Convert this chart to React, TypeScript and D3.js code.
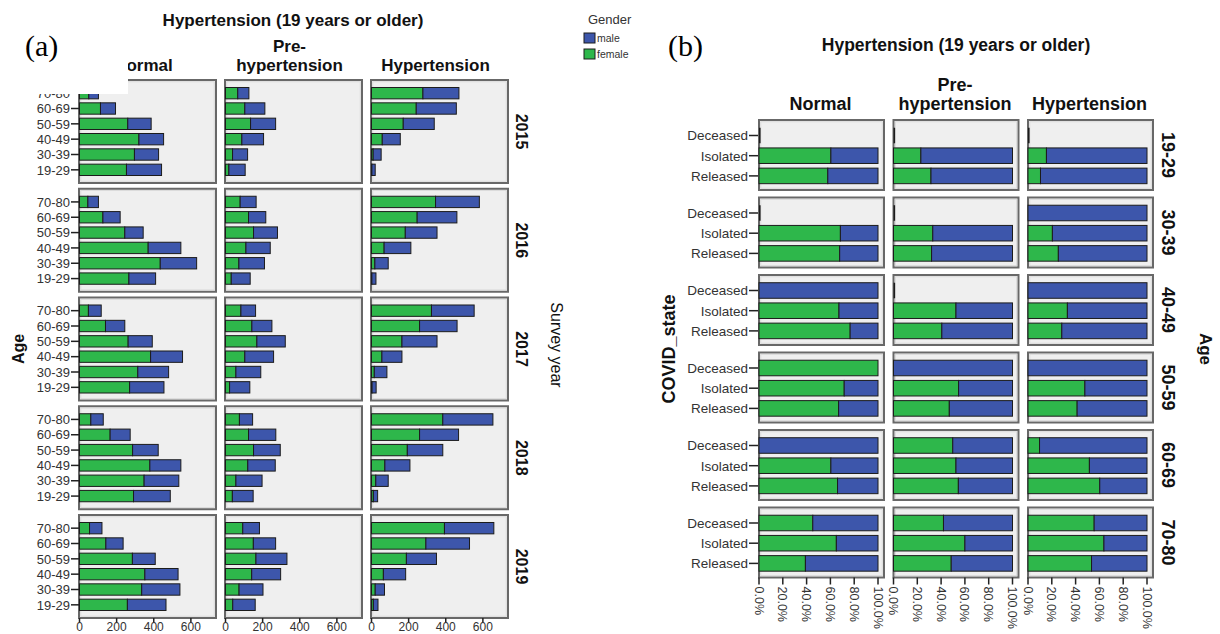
import React from 'react';
import * as d3 from 'd3';

// ---------- Panel (a) data ----------
const years = ['2015', '2016', '2017', '2018', '2019'];
const agesA = ['70-80', '60-69', '50-59', '40-49', '30-39', '19-29'];
const bpHeaders = [['Normal'], ['Pre-', 'hypertension'], ['Hypertension']];
const countTicks = [0, 200, 400, 600];

// counts per year (rows) per age group (70-80 ... 19-29)
const femaleNormal = [
  [50, 113, 260, 320, 296, 253],
  [45, 126, 244, 370, 435, 266],
  [48, 140, 262, 383, 314, 270],
  [61, 165, 286, 379, 348, 291],
  [54, 142, 285, 352, 335, 258],
];
const maleNormal = [
  [52, 81, 126, 133, 130, 189],
  [57, 93, 99, 176, 196, 144],
  [69, 104, 130, 172, 166, 185],
  [67, 108, 138, 167, 187, 198],
  [67, 93, 123, 179, 206, 208],
];
const femalePre = [
  [66, 104, 135, 88, 38, 18],
  [79, 124, 151, 110, 72, 31],
  [83, 142, 169, 104, 56, 22],
  [75, 124, 151, 120, 56, 37],
  [93, 150, 164, 141, 73, 39],
];
const malePre = [
  [60, 108, 135, 117, 81, 88],
  [86, 93, 129, 131, 138, 102],
  [79, 108, 153, 155, 134, 109],
  [71, 147, 144, 148, 141, 112],
  [90, 120, 167, 156, 129, 121],
];
const femaleHyper = [
  [277, 241, 171, 58, 9, 2],
  [345, 246, 182, 68, 18, 2],
  [323, 259, 164, 56, 15, 3],
  [384, 259, 193, 72, 23, 10],
  [393, 293, 188, 64, 20, 10],
];
const maleHyper = [
  [194, 216, 167, 97, 43, 18],
  [236, 214, 171, 144, 72, 22],
  [230, 202, 189, 108, 68, 22],
  [270, 210, 191, 135, 67, 23],
  [266, 235, 162, 120, 50, 25],
];

// ---------- Panel (b) data ----------
const agesB = ['19-29', '30-39', '40-49', '50-59', '60-69', '70-80'];
const covidStates = ['Deceased', 'Isolated', 'Released'];
const pctTicks = [0, 20, 40, 60, 80, 100];
// female share (%) per age group per state; null = no cases
const femalePctNormal = [
  [null, 60.4, 57.8],
  [null, 68.4, 67.8],
  [0, 67.2, 76.6],
  [100, 71.6, 66.9],
  [0, 60.4, 66.0],
  [45.2, 65.0, 39.0],
];
const femalePctPre = [
  [null, 23.0, 31.5],
  [null, 33.0, 32.0],
  [null, 52.5, 40.6],
  [0, 54.7, 46.9],
  [49.8, 52.5, 54.5],
  [42.0, 60.0, 48.5],
];
const femalePctHyper = [
  [null, 15.5, 10.5],
  [0, 20.5, 25.5],
  [0, 33.1, 28.4],
  [0, 47.8, 41.3],
  [9.7, 51.6, 60.3],
  [55.6, 63.8, 53.4],
];

const GREEN = '#2eb74b';
const BLUE = '#3d56ab';
const FONT = '"Liberation Sans", Arial, Helvetica, sans-serif';
const PANEL_FILL = '#efefef';
const PANEL_STROKE = '#686868';
const BAR_STROKE = '#1c1c1c';

function Panel({ x, y, w, h }: { x: number; y: number; w: number; h: number }) {
  return (
    <g>
      <rect x={x} y={y} width={w} height={h} fill={PANEL_FILL} stroke={PANEL_STROKE} strokeWidth={2} />
      <rect x={x + 1.8} y={y + 1.8} width={w - 3.6} height={h - 3.6} fill="none" stroke="#d6d6d6" strokeWidth={0.8} />
    </g>
  );
}

function ChartA() {
  const femaleSets = [femaleNormal, femalePre, femaleHyper];
  const maleSets = [maleNormal, malePre, maleHyper];
  const colLeft = 79, colPitch = 146, colW = 137;
  const rowTop = 80, rowPitch = 108.75, rowH = 103;
  const x = d3.scaleLinear().domain([0, 738]).range([0, colW]);
  const yBand = d3.scaleBand<string>().domain(agesA).range([5.5, rowH - 5.5]).paddingInner(0.26).paddingOuter(0.13);

  return (
    <g fontFamily={FONT}>
      <text x={293} y={26} textAnchor="middle" fontWeight="bold" fontSize={17} fill="#111">Hypertension (19 years or older)</text>
      {bpHeaders.map((lines, ci) => {
        const cx = colLeft + ci * colPitch + colW / 2 - 4;
        return lines.map((ln, li) => (
          <text key={ci + '-' + li} x={cx} y={71 - (lines.length - 1 - li) * 19.5} textAnchor="middle" fontWeight="bold" fontSize={17} fill="#111">{ln}</text>
        ));
      })}
      {years.map((yr, ri) => {
        const top = rowTop + ri * rowPitch;
        return (
          <g key={yr}>
            {bpHeaders.map((_, ci) => {
              const left = colLeft + ci * colPitch;
              const fem = femaleSets[ci][ri];
              const mal = maleSets[ci][ri];
              return (
                <g key={ci}>
                  <Panel x={left} y={top} w={colW} h={rowH} />
                  {agesA.map((age, ai) => {
                    const by = top + (yBand(age) as number);
                    const bh = yBand.bandwidth();
                    const f = fem[ai], m = mal[ai];
                    return (
                      <g key={age}>
                        <rect x={left + 0.5 + x(0)} y={by} width={x(f) - x(0)} height={bh} fill={GREEN} stroke={BAR_STROKE} strokeWidth={1} />
                        <rect x={left + 0.5 + x(f)} y={by} width={x(f + m) - x(f)} height={bh} fill={BLUE} stroke={BAR_STROKE} strokeWidth={1} />
                      </g>
                    );
                  })}
                </g>
              );
            })}
            {agesA.map((age) => {
              const cy = top + (yBand(age) as number) + yBand.bandwidth() / 2;
              return (
                <g key={age}>
                  <line x1={71} x2={79} y1={cy} y2={cy} stroke="#222" strokeWidth={1.5} />
                  <text x={70} y={cy} dy="0.36em" textAnchor="end" fontSize={13} fill="#333">{age}</text>
                </g>
              );
            })}
            <text transform={`translate(522,${top + rowH / 2}) rotate(90)`} textAnchor="middle" dy="0.36em" fontWeight="bold" fontSize={16} fill="#111">{yr}</text>
          </g>
        );
      })}
      {bpHeaders.map((_, ci) => {
        const left = colLeft + ci * colPitch + 0.5;
        const base = rowTop + 4 * rowPitch + rowH;
        return (
          <g key={'ax' + ci}>
            {countTicks.map((t) => (
              <g key={t}>
                <line x1={left + x(t)} x2={left + x(t)} y1={base} y2={base + 4} stroke="#222" strokeWidth={1.5} />
                <text x={left + x(t)} y={base + 12.5} textAnchor="middle" fontSize={12} fill="#333">{t}</text>
              </g>
            ))}
          </g>
        );
      })}
      <text transform="translate(18,349) rotate(-90)" textAnchor="middle" dy="0.36em" fontWeight="bold" fontSize={16} fill="#111">Age</text>
      <text transform="translate(557,345) rotate(90)" textAnchor="middle" dy="0.36em" fontSize={16} fill="#111">Survey year</text>
      {/* legend */}
      <text x={588} y={24} fontSize={13} fill="#333">Gender</text>
      <rect x={584} y={33} width={11} height={10} fill={BLUE} stroke={BAR_STROKE} strokeWidth={1} />
      <text x={597} y={42} fontSize={10.5} fill="#333">male</text>
      <rect x={584} y={49} width={11} height={10} fill={GREEN} stroke={BAR_STROKE} strokeWidth={1} />
      <text x={597} y={58} fontSize={10.5} fill="#333">female</text>
      {/* white patch with label */}
      <rect x={0} y={0} width={128} height={94} fill="#fff" />
      <text x={25} y={56} fontFamily='"Liberation Serif", "Times New Roman", serif' fontSize={30} fill="#000">(a)</text>
    </g>
  );
}

function ChartB() {
  const pctSets = [femalePctNormal, femalePctPre, femalePctHyper];
  const colLeft = 759, colPitch = 134.5, colW = 125;
  const rowTop = 120, rowPitch = 77.5, rowH = 70;
  const x = d3.scaleLinear().domain([0, 100]).range([0, 119]);
  const yBand = d3.scaleBand<string>().domain(covidStates).range([5.4, 66]).paddingInner(0.23).paddingOuter(0.115);

  return (
    <g fontFamily={FONT}>
      <text x={668} y={56} fontFamily='"Liberation Serif", "Times New Roman", serif' fontSize={30} fill="#000">(b)</text>
      <text x={956} y={51} textAnchor="middle" fontWeight="bold" fontSize={17.5} fill="#111">Hypertension (19 years or older)</text>
      {bpHeaders.map((lines, ci) => {
        const cx = colLeft + ci * colPitch + colW / 2 - 1;
        return lines.map((ln, li) => (
          <text key={ci + '-' + li} x={cx} y={110 - (lines.length - 1 - li) * 19.5} textAnchor="middle" fontWeight="bold" fontSize={18} fill="#111">{ln}</text>
        ));
      })}
      {agesB.map((age, ri) => {
        const top = rowTop + ri * rowPitch;
        return (
          <g key={age}>
            {bpHeaders.map((_, ci) => {
              const left = colLeft + ci * colPitch;
              const vals = pctSets[ci][ri];
              return (
                <g key={ci}>
                  <Panel x={left} y={top} w={colW} h={rowH} />
                  {covidStates.map((st, si) => {
                    const by = top + (yBand(st) as number);
                    const bh = yBand.bandwidth();
                    const f = vals[si];
                    if (f === null) {
                      return <line key={st} x1={left + 0.8} x2={left + 0.8} y1={by} y2={by + bh} stroke={BAR_STROKE} strokeWidth={1.6} />;
                    }
                    return (
                      <g key={st}>
                        {f > 0 && <rect x={left + x(0)} y={by} width={x(f) - x(0)} height={bh} fill={GREEN} stroke={BAR_STROKE} strokeWidth={1} />}
                        {f < 100 && <rect x={left + x(f)} y={by} width={x(100) - x(f)} height={bh} fill={BLUE} stroke={BAR_STROKE} strokeWidth={1} />}
                      </g>
                    );
                  })}
                </g>
              );
            })}
            {covidStates.map((st) => {
              const cy = top + (yBand(st) as number) + yBand.bandwidth() / 2;
              return (
                <g key={st}>
                  <line x1={749} x2={758} y1={cy} y2={cy} stroke="#222" strokeWidth={1.5} />
                  <text x={748} y={cy} dy="0.36em" textAnchor="end" fontSize={13.5} fill="#333">{st}</text>
                </g>
              );
            })}
            <text transform={`translate(1168,${top + rowH / 2}) rotate(90)`} textAnchor="middle" dy="0.36em" fontWeight="bold" fontSize={18} fill="#111">{age}</text>
          </g>
        );
      })}
      {bpHeaders.map((_, ci) => {
        const left = colLeft + ci * colPitch;
        const base = rowTop + 5 * rowPitch + rowH;
        return (
          <g key={'ax' + ci}>
            {pctTicks.map((t) => (
              <g key={t}>
                <line x1={left + x(t)} x2={left + x(t)} y1={base} y2={base + 7} stroke="#222" strokeWidth={1.5} />
                <text transform={`translate(${left + x(t)},${base + 9}) rotate(90)`} dy="0.36em" textAnchor="start" fontSize={12.5} fill="#333">{t.toFixed(1) + '%'}</text>
              </g>
            ))}
          </g>
        );
      })}
      <text transform="translate(669,349) rotate(-90)" textAnchor="middle" dy="0.36em" fontWeight="bold" fontSize={18} fill="#111">COVID_state</text>
      <text transform="translate(1206,349) rotate(90)" textAnchor="middle" dy="0.36em" fontWeight="bold" fontSize={17} fill="#111">Age</text>
    </g>
  );
}

export default function App() {
  return (
    <svg width={1220} height={634} viewBox="0 0 1220 634" style={{ position: 'absolute', left: 0, top: 0, background: '#fff' }}>
      <rect x={0} y={0} width={1220} height={634} fill="#fff" />
      <ChartA />
      <ChartB />
    </svg>
  );
}
